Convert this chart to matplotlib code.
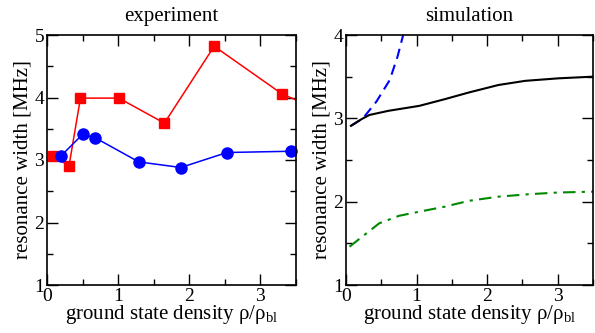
import numpy as np
import matplotlib
matplotlib.use("Agg")
from matplotlib import pyplot as plt
from matplotlib.ticker import MultipleLocator

plt.rcParams['font.family'] = 'Liberation Serif'
plt.rcParams['mathtext.fontset'] = 'custom'
plt.rcParams['mathtext.rm'] = 'Liberation Serif'
plt.rcParams['mathtext.it'] = 'Liberation Serif:italic'

# experiment: red squares, blue circles
exp_red_x = [0.08, 0.31, 0.47, 1.01, 1.65, 2.35, 3.30, 3.60]
exp_red_y = [3.06, 2.91, 3.99, 3.99, 3.59, 4.82, 4.06, 3.91]
exp_blue_x = [0.20, 0.50, 0.67, 1.29, 1.88, 2.53, 3.43]
exp_blue_y = [3.07, 3.41, 3.36, 2.97, 2.88, 3.12, 3.14]

# simulation curves
sim_black_x = [0.07, 0.22, 0.33, 0.6, 1.04, 1.4, 1.74, 2.16, 2.54, 3.01, 3.5]
sim_black_y = [2.91, 2.99, 3.04, 3.09, 3.15, 3.23, 3.31, 3.40, 3.45, 3.48, 3.50]
sim_blue_x = [0.07, 0.24, 0.43, 0.62, 0.73, 0.81]
sim_blue_y = [2.91, 3.00, 3.20, 3.46, 3.74, 4.00]
sim_green_x = [0.05, 0.2, 0.47, 0.75, 1.04, 1.4, 1.74, 2.16, 2.6, 3.01, 3.5]
sim_green_y = [1.46, 1.56, 1.74, 1.83, 1.88, 1.94, 2.01, 2.06, 2.09, 2.11, 2.12]

xlabel = r'ground state density ρ/ρ$_{\rm bl}$'
ylabel = 'resonance width [MHz]'

fig = plt.figure(figsize=(5.95, 3.33), dpi=100)
ax1 = fig.add_axes([47 / 595, 48 / 333, 249 / 595, 250 / 333])
ax2 = fig.add_axes([346 / 595, 48 / 333, 247 / 595, 250 / 333])

# experiment panel
ax1.plot(exp_red_x, exp_red_y, color='red', lw=1.1)
ax1.plot(exp_red_x[:-1], exp_red_y[:-1], 's', color='red', ms=7, clip_on=False)
ax1.plot(exp_blue_x, exp_blue_y, color='blue', lw=1.1)
ax1.plot(exp_blue_x, exp_blue_y, 'o', color='blue', ms=8, clip_on=False)
ax1.set_xlim(0, 3.5)
ax1.set_ylim(1, 5)
ax1.set_title('experiment', fontsize=15, pad=10)

# simulation panel
ax2.plot(sim_blue_x, sim_blue_y, color='blue', lw=1.5, dashes=(5, 3))
ax2.plot(sim_black_x, sim_black_y, color='black', lw=1.5)
ax2.plot(sim_green_x, sim_green_y, color='#008800', lw=1.5, dashes=(6, 3, 1.5, 3))
ax2.set_xlim(0, 3.5)
ax2.set_ylim(1, 4)
ax2.set_title('simulation', fontsize=15, pad=10)

for ax in (ax1, ax2):
    ax.xaxis.set_major_locator(MultipleLocator(1))
    ax.xaxis.set_minor_locator(MultipleLocator(0.5))
    ax.yaxis.set_major_locator(MultipleLocator(1))
    ax.yaxis.set_minor_locator(MultipleLocator(0.5))
    ax.tick_params(which='both', direction='in', top=True, right=True,
                   labelsize=14, width=1.0, pad=2)
    ax.tick_params(which='major', length=8)
    ax.tick_params(which='minor', length=4)
    for s in ax.spines.values():
        s.set_linewidth(1.2)
    ax.set_xlabel(xlabel, fontsize=15, labelpad=-1)
    ax.set_ylabel(ylabel, fontsize=15, labelpad=1)

fig.savefig('out.png', dpi=100)
